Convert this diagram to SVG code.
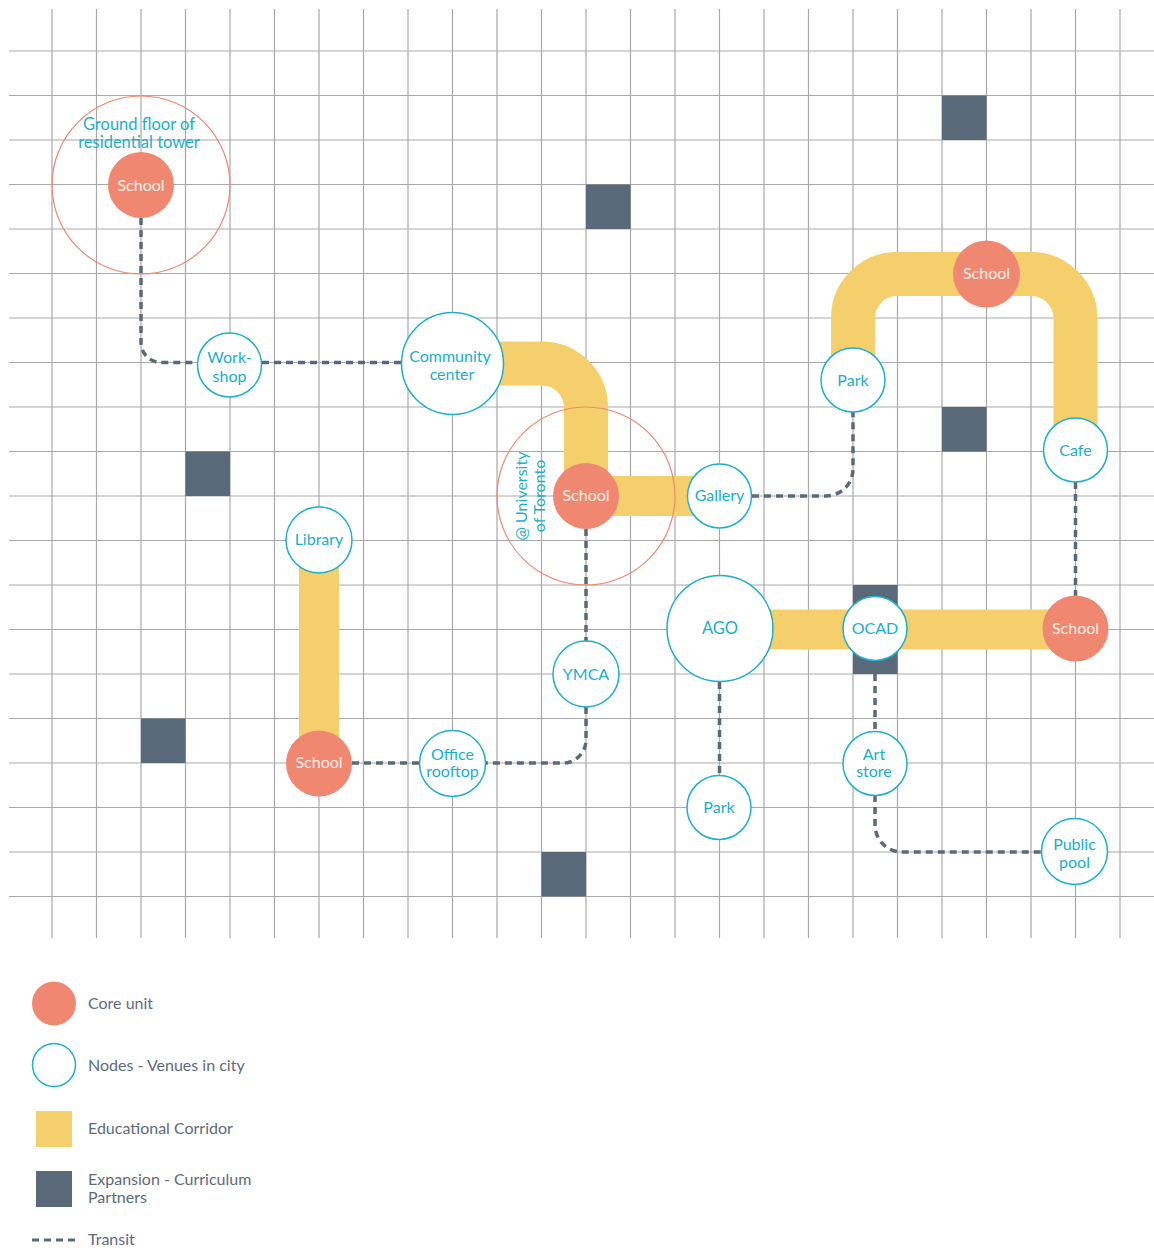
<svg xmlns="http://www.w3.org/2000/svg" width="1154" height="1251" viewBox="0 0 1154 1251">
<style>
.grid{stroke:#a9a9a9;stroke-width:1.2;fill:none}
.corr{stroke:#f4cf6c;fill:none}
.sq{fill:#5a6979}
.tr{stroke:#5a6979;stroke-width:3.5;fill:none;stroke-dasharray:7 5}
.core{fill:#f08871}
.node{fill:#fff;stroke:#1cb0ca;stroke-width:1.5}
.ring{fill:none;stroke:#f08871;stroke-width:1.2}
text{font-family:Lato,"Noto Sans","Liberation Sans",sans-serif;font-size:16px;text-anchor:middle}
.lt{fill:#1aafc9}
.wt{fill:#fdeee8}
.lg{fill:#5d6b7a;text-anchor:start}
</style>
<rect width="1154" height="1251" fill="#fff"/>
<g id="grid" class="grid">
<path d="M52 9V938M96.5 9V938M141 9V938M185.5 9V938M230 9V938M274.5 9V938M319 9V938M363.5 9V938M408 9V938M452.5 9V938M497 9V938M541.5 9V938M586 9V938M630.5 9V938M675 9V938M719.5 9V938M764 9V938M808.5 9V938M853 9V938M897.5 9V938M942 9V938M986.5 9V938M1031 9V938M1075.5 9V938M1120 9V938"/>
<path d="M9 51H1154M9 95.5H1154M9 140H1154M9 184.5H1154M9 229H1154M9 273.5H1154M9 318H1154M9 362.5H1154M9 407H1154M9 451.5H1154M9 496H1154M9 540.5H1154M9 585H1154M9 629.5H1154M9 674H1154M9 718.5H1154M9 763H1154M9 807.5H1154M9 852H1154M9 896.5H1154"/>
</g>
<g id="squares">
<rect class="sq" x="942" y="95.5" width="44.5" height="44.5"/>
<rect class="sq" x="586" y="184.5" width="44.5" height="44.5"/>
<rect class="sq" x="942" y="407" width="44.5" height="44.5"/>
<rect class="sq" x="185.5" y="451.5" width="44.5" height="44.5"/>
<rect class="sq" x="141" y="718.5" width="44.5" height="44.5"/>
<rect class="sq" x="541.5" y="852" width="44.5" height="44.5"/>
<rect class="sq" x="853" y="585" width="44.5" height="89"/>
</g>
<g id="corridors">
<path class="corr" stroke-width="44" d="M452.5 363.5H542A44 44 0 0 1 586 407.5V496"/>
<path class="corr" stroke-width="40" d="M586 496H719.5"/>
<path class="corr" stroke-width="44" d="M853 380V318A44 44 0 0 1 897 274H1031A44.5 44.5 0 0 1 1075.5 318.5V450"/>
<path class="corr" stroke-width="40" d="M719.5 629.5H1075.5"/>
<path class="corr" stroke-width="40" d="M319 540V763"/>
</g>
<g id="connectors">
<path class="tr" d="M141 218V342.5A20 20 0 0 0 161 362.5H198"/>
<path class="tr" d="M262 362.5H401"/>
<path class="tr" d="M586 529V641"/>
<path class="tr" d="M586 707V740A23 23 0 0 1 563 763H485"/>
<path class="tr" d="M419 763H352"/>
<path class="tr" d="M752 496H826A27 27 0 0 0 853 469V412"/>
<path class="tr" d="M1075.5 482V596"/>
<path class="tr" d="M719.5 682V775"/>
<path class="tr" d="M875 662V731"/>
<path class="tr" d="M875 795V825A27 27 0 0 0 902 852H1042"/>
</g>
<g id="school1">
<circle class="ring" cx="141" cy="185" r="89"/>
<circle class="core" cx="141" cy="185" r="33"/>
<text class="wt" x="141" y="191">School</text>
<text class="lt" x="139" y="130" style="font-size:16.5px">Ground floor of</text>
<text class="lt" x="139" y="148" style="font-size:16.5px">residential tower</text>
</g>
<g id="workshop">
<circle class="node" cx="229.5" cy="365" r="32"/>
<text class="lt" x="229.5" y="363">Work-</text>
<text class="lt" x="229.5" y="382">shop</text>
</g>
<g id="community">
<circle class="node" cx="452.5" cy="363.5" r="51"/>
<text class="lt" x="450" y="362">Community</text>
<text class="lt" x="452" y="380">center</text>
</g>
<g id="school2">
<circle class="ring" cx="586" cy="496" r="89"/>
<circle class="core" cx="586" cy="496" r="33"/>
<text class="wt" x="586" y="501">School</text>
<text class="lt" transform="translate(527,496) rotate(-90)">@ University</text>
<text class="lt" transform="translate(545,496) rotate(-90)">of Toronto</text>
</g>
<g id="gallery">
<circle class="node" cx="719.5" cy="496" r="32"/>
<text class="lt" x="719.5" y="501">Gallery</text>
</g>
<g id="park1">
<circle class="node" cx="853" cy="380" r="32"/>
<text class="lt" x="853" y="386">Park</text>
</g>
<g id="school3">
<circle class="core" cx="986.5" cy="274" r="33.5"/>
<text class="wt" x="986.5" y="279">School</text>
</g>
<g id="cafe">
<circle class="node" cx="1075.5" cy="450" r="32"/>
<text class="lt" x="1075.5" y="456">Cafe</text>
</g>
<g id="library">
<circle class="node" cx="319" cy="540" r="33"/>
<text class="lt" x="319" y="545">Library</text>
</g>
<g id="school5">
<circle class="core" cx="319" cy="763.5" r="33"/>
<text class="wt" x="319" y="768">School</text>
</g>
<g id="office">
<circle class="node" cx="452.5" cy="763.5" r="33"/>
<text class="lt" x="452.5" y="760">Office</text>
<text class="lt" x="452.5" y="777">rooftop</text>
</g>
<g id="ymca">
<circle class="node" cx="586" cy="674" r="33"/>
<text class="lt" x="586" y="680">YMCA</text>
</g>
<g id="ago">
<circle class="node" cx="720" cy="628.5" r="53"/>
<text class="lt" x="720" y="634" style="font-size:16.5px">AGO</text>
</g>
<g id="ocad">
<circle class="node" cx="875" cy="628.5" r="32"/>
<text class="lt" x="875" y="634">OCAD</text>
</g>
<g id="school4">
<circle class="core" cx="1075.5" cy="628.5" r="33"/>
<text class="wt" x="1075.5" y="634">School</text>
</g>
<g id="park2">
<circle class="node" cx="719" cy="807.5" r="32"/>
<text class="lt" x="719" y="813">Park</text>
</g>
<g id="artstore">
<circle class="node" cx="875" cy="763.5" r="32"/>
<text class="lt" x="874" y="760">Art</text>
<text class="lt" x="874" y="777">store</text>
</g>
<g id="pool">
<circle class="node" cx="1074.5" cy="851.5" r="33"/>
<text class="lt" x="1074.5" y="850">Public</text>
<text class="lt" x="1074.5" y="868">pool</text>
</g>
<g id="legend">
<circle class="core" cx="54" cy="1003.5" r="22"/>
<text class="lg" x="88" y="1009">Core unit</text>
<circle class="node" cx="54" cy="1065" r="21.5"/>
<text class="lg" x="88" y="1071">Nodes - Venues in city</text>
<rect x="36" y="1111" width="36" height="36" fill="#f4cf6c"/>
<text class="lg" x="88" y="1134">Educational Corridor</text>
<rect class="sq" x="36" y="1171" width="36" height="36"/>
<text class="lg" x="88" y="1185">Expansion - Curriculum</text>
<text class="lg" x="88" y="1203">Partners</text>
<path class="tr" d="M32 1240H76" style="stroke-width:3"/>
<text class="lg" x="88" y="1245">Transit</text>
</g>
</svg>
